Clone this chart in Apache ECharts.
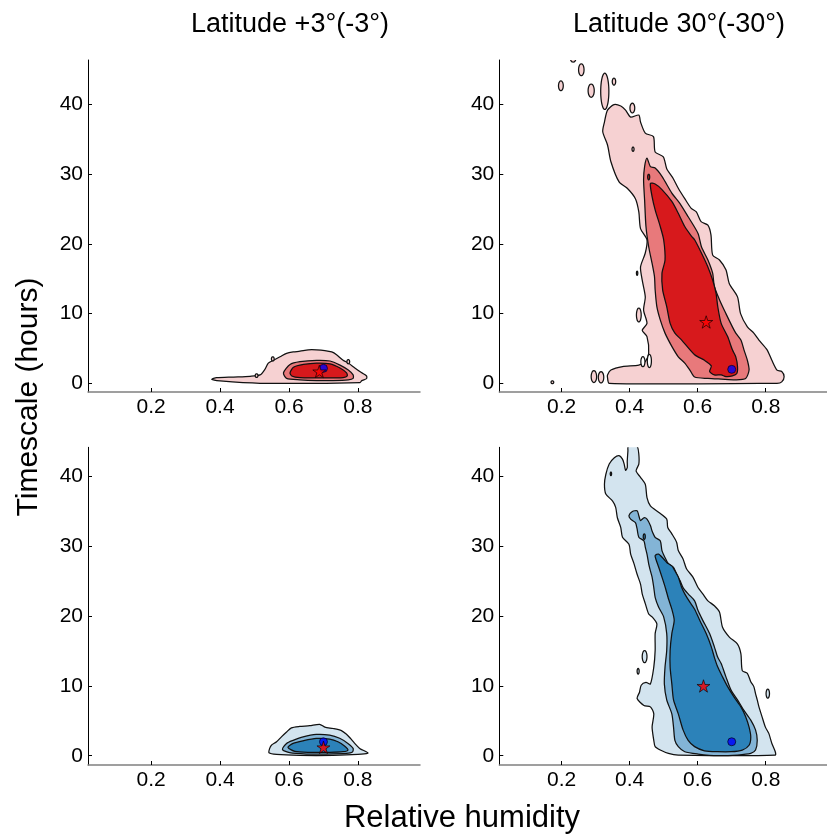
<!DOCTYPE html>
<html><head><meta charset="utf-8">
<script src="https://cdn.jsdelivr.net/npm/echarts@6/dist/echarts.min.js"></script>
<style>html,body{margin:0;padding:0;background:#fff}#c{width:827px;height:834px}</style>
</head><body><div id="c"></div>
<script>
// ---------- data ----------
const panelTitles = ['Latitude +3°(-3°)', 'Latitude 30°(-30°)'];
const xTickValues = [0.2, 0.4, 0.6, 0.8];
const yTickValues = [0, 10, 20, 30, 40];
const xLabel = 'Relative humidity';
const yLabel = 'Timescale (hours)';

// Top-left (red, +3°)
const tlLight = [[0.376,0.57],[0.390,0.8],[0.439,0.9],[0.487,1.0],[0.516,1.2],[0.530,2.0],[0.540,2.9],[0.555,3.3],[0.574,3.8],[0.593,4.3],[0.613,4.5],[0.632,4.6],[0.656,4.8],[0.680,4.8],[0.704,4.7],[0.724,4.5],[0.738,4.1],[0.757,3.3],[0.772,2.9],[0.791,2.2],[0.811,1.5],[0.825,1.05],[0.825,0.67],[0.811,0.38],[0.806,0.1],[0.516,0],[0.40,0.33]];
const tlMid = [[0.584,1.5],[0.603,2.7],[0.632,3.1],[0.680,3.3],[0.719,3.2],[0.748,2.6],[0.772,1.9],[0.786,1.2],[0.786,0.7],[0.772,0.5],[0.728,0.4],[0.680,0.4],[0.632,0.5],[0.593,0.7]];
const tlDark = [[0.603,1.5],[0.613,2.3],[0.642,2.7],[0.680,2.9],[0.719,2.8],[0.748,2.2],[0.767,1.5],[0.769,1.05],[0.757,0.8],[0.728,0.77],[0.680,0.77],[0.632,0.8],[0.608,1.05]];
const tlIslands = [[0.506,1.1,0.004,0.25],[0.553,3.5,0.004,0.3],[0.772,3.1,0.004,0.3]];

// Top-right (red, 30°)
const trLight = [[0.335,39.2],[0.354,40.0],[0.374,39.8],[0.388,39.2],[0.403,38.2],[0.427,38.5],[0.432,37.5],[0.446,35.9],[0.470,35.4],[0.475,33.2],[0.499,32.5],[0.509,30.8],[0.528,29.4],[0.543,28.0],[0.562,26.5],[0.581,25.1],[0.596,24.6],[0.610,23.2],[0.630,22.7],[0.639,21.3],[0.644,18.4],[0.664,17.7],[0.683,16.3],[0.693,14.3],[0.717,12.4],[0.726,10.0],[0.746,8.1],[0.765,7.2],[0.780,6.2],[0.804,4.8],[0.818,3.3],[0.833,1.9],[0.847,1.7],[0.854,0.95],[0.847,0.2],[0.833,0],[0.340,0],[0.335,0.8],[0.335,1.2],[0.345,1.9],[0.379,2.4],[0.427,2.6],[0.446,3.1],[0.456,4.3],[0.451,6.7],[0.437,7.6],[0.451,8.6],[0.441,10.5],[0.446,12.4],[0.437,14.8],[0.432,16.7],[0.446,18.7],[0.451,20.6],[0.432,22.2],[0.427,24.6],[0.417,26.5],[0.393,28.0],[0.369,28.9],[0.345,31.8],[0.335,34.2],[0.321,36.1],[0.326,37.5]];
const trMid = [[0.451,32.3],[0.461,31.1],[0.475,30.9],[0.495,29.7],[0.524,27.3],[0.548,25.8],[0.572,23.9],[0.601,21.5],[0.611,19.6],[0.630,17.7],[0.644,15.8],[0.649,13.9],[0.664,12.0],[0.683,10.0],[0.702,8.1],[0.712,7.2],[0.727,6.2],[0.736,4.8],[0.746,3.3],[0.751,1.9],[0.741,0.7],[0.712,0.5],[0.669,0.6],[0.630,0.7],[0.591,0.9],[0.577,1.9],[0.562,2.9],[0.543,3.8],[0.524,5.3],[0.504,7.2],[0.490,9.1],[0.480,11.0],[0.475,13.4],[0.473,15.3],[0.466,17.2],[0.456,19.6],[0.448,22.5],[0.444,26.3],[0.441,29.2],[0.444,31.1]];
const trDark = [[0.461,28.7],[0.475,28.6],[0.495,27.8],[0.524,26.1],[0.543,24.4],[0.562,22.5],[0.582,21.1],[0.591,20.6],[0.611,18.7],[0.630,16.7],[0.644,14.8],[0.654,12.9],[0.659,11.0],[0.669,8.6],[0.688,6.7],[0.702,4.8],[0.712,3.8],[0.717,2.4],[0.715,1.4],[0.702,1.05],[0.683,0.96],[0.669,1.2],[0.649,1.2],[0.635,1.7],[0.640,2.5],[0.620,3.3],[0.591,4.1],[0.553,6.2],[0.533,7.2],[0.519,8.6],[0.509,11.0],[0.497,13.4],[0.495,15.8],[0.504,17.7],[0.500,20.6],[0.490,22.5],[0.475,24.9],[0.466,26.8]];
const trIslands = [[0.234,46.6,0.008,0.5],[0.258,45.0,0.008,0.86],[0.198,42.7,0.007,0.7],[0.287,42.0,0.009,0.95],[0.327,41.9,0.012,2.6],[0.354,43.3,0.005,0.5],[0.408,39.5,0.007,0.7],[0.410,33.6,0.003,0.3],[0.422,15.8,0.002,0.3],[0.427,9.8,0.007,1.0],[0.295,0.96,0.008,0.85],[0.316,0.86,0.008,0.8],[0.173,0.15,0.004,0.2]];
const trHoles = [[0.439,3.1,0.006,0.72],[0.458,3.2,0.006,0.95]];
const trDarkDots = [[0.456,29.6,0.003,0.4]];

// Bottom-left (blue, +3°)
const blLight = [[0.542,0.43],[0.544,1.05],[0.549,1.5],[0.564,2.0],[0.578,2.7],[0.593,3.4],[0.607,4.0],[0.631,4.2],[0.660,4.3],[0.689,4.5],[0.704,4.1],[0.728,3.9],[0.752,3.6],[0.766,3.1],[0.778,2.5],[0.790,1.8],[0.805,1.05],[0.824,0.57],[0.829,0.38],[0.800,0.19],[0.728,0.05],[0.631,0.05],[0.564,0.19]];
const blMid = [[0.581,0.9],[0.593,1.76],[0.612,2.2],[0.641,2.7],[0.679,3.05],[0.718,2.95],[0.747,2.5],[0.771,1.76],[0.786,1.05],[0.784,0.52],[0.766,0.33],[0.708,0.24],[0.650,0.24],[0.602,0.43]];
const blDark = [[0.597,1.2],[0.612,1.76],[0.641,2.14],[0.679,2.48],[0.718,2.38],[0.742,2.0],[0.761,1.38],[0.771,0.81],[0.757,0.57],[0.718,0.48],[0.660,0.48],[0.617,0.62]];

// Bottom-right (blue, 30°)
const brLight = [[0.326,38.9],[0.330,40.3],[0.340,41.8],[0.355,42.7],[0.369,43.0],[0.379,42.5],[0.384,41.8],[0.388,40.9],[0.393,41.3],[0.393,42.2],[0.395,43.7],[0.396,44.3],[0.422,44.3],[0.427,43.2],[0.427,41.8],[0.419,40.8],[0.432,39.9],[0.446,38.9],[0.451,37.0],[0.461,35.8],[0.485,34.9],[0.509,33.9],[0.512,32.7],[0.524,31.8],[0.538,30.6],[0.543,29.4],[0.557,28.2],[0.567,26.8],[0.586,25.6],[0.601,24.1],[0.615,23.2],[0.630,22.2],[0.649,21.5],[0.664,20.6],[0.673,18.4],[0.693,17.0],[0.717,16.0],[0.727,14.6],[0.731,12.2],[0.746,11.8],[0.756,10.6],[0.765,9.9],[0.770,8.9],[0.775,8.0],[0.780,7.0],[0.789,5.6],[0.799,4.1],[0.809,3.2],[0.818,1.76],[0.828,0.57],[0.828,0.1],[0.543,0.1],[0.514,0.33],[0.490,0.81],[0.475,1.3],[0.471,2.2],[0.466,4.1],[0.471,6.0],[0.461,7.0],[0.442,7.2],[0.422,8.2],[0.429,9.1],[0.434,10.1],[0.448,10.5],[0.461,10.3],[0.471,12.7],[0.475,15.1],[0.475,17.5],[0.480,18.9],[0.466,19.9],[0.456,20.3],[0.446,21.8],[0.437,23.2],[0.432,24.6],[0.422,26.0],[0.413,27.5],[0.403,28.9],[0.398,30.3],[0.379,31.3],[0.374,32.7],[0.364,34.1],[0.359,35.6],[0.350,36.5],[0.330,37.5]];
const brMid = [[0.398,34.4],[0.408,35.0],[0.422,35.1],[0.427,34.4],[0.432,33.7],[0.442,34.1],[0.451,33.9],[0.461,33.0],[0.466,32.2],[0.475,31.3],[0.490,30.8],[0.495,29.4],[0.504,28.4],[0.514,27.5],[0.529,27.0],[0.538,26.0],[0.548,25.1],[0.557,24.1],[0.572,23.2],[0.591,22.2],[0.601,20.8],[0.615,19.4],[0.635,17.5],[0.649,15.6],[0.659,14.1],[0.669,13.2],[0.683,11.3],[0.698,9.4],[0.717,8.0],[0.736,6.5],[0.756,5.1],[0.770,3.7],[0.775,2.2],[0.770,0.81],[0.756,0.33],[0.717,0.1],[0.659,0],[0.601,0.24],[0.562,0.57],[0.543,1.3],[0.533,2.2],[0.529,4.1],[0.524,6.0],[0.509,8.0],[0.502,10.3],[0.504,12.7],[0.509,15.1],[0.509,17.5],[0.500,19.9],[0.485,21.3],[0.475,22.7],[0.471,24.1],[0.466,25.6],[0.461,26.5],[0.456,27.5],[0.451,28.9],[0.446,29.9],[0.442,30.8],[0.427,31.3],[0.422,32.5],[0.417,33.4],[0.403,33.9]];
const brDark = [[0.475,28.7],[0.485,28.9],[0.500,28.2],[0.509,27.7],[0.524,27.2],[0.533,26.5],[0.543,25.6],[0.553,24.1],[0.562,23.2],[0.577,22.0],[0.591,21.0],[0.606,19.4],[0.625,17.5],[0.640,15.6],[0.649,14.1],[0.659,12.7],[0.673,11.3],[0.688,9.9],[0.707,8.4],[0.727,7.0],[0.741,5.6],[0.751,4.1],[0.756,2.7],[0.751,1.5],[0.731,0.81],[0.698,0.57],[0.659,0.57],[0.620,0.71],[0.591,1.3],[0.572,2.2],[0.557,3.7],[0.543,6.0],[0.529,8.0],[0.524,10.3],[0.519,12.7],[0.519,15.1],[0.524,17.5],[0.531,19.4],[0.524,21.0],[0.514,22.5],[0.506,23.9],[0.497,25.3],[0.487,26.8],[0.477,28.2]];
const brIslands = [[0.444,14.2,0.007,0.86],[0.425,12.1,0.003,0.4],[0.806,8.9,0.005,0.65]];
const brMidDots = [[0.443,31.4,0.003,0.4]];
const brDarkDots = [[0.345,40.4,0.002,0.25]];

// Markers per panel [TL, TR, BL, BR]
const circlePoints = [[0.700,2.15],[0.700,2.0],[0.700,2.0],[0.700,2.0]];
const starPoints = [[0.688,1.7],[0.625,8.8],[0.700,1.2],[0.617,10.0]];

// ---------- styles ----------
const RED = ['#f6d1d2', '#e8797b', '#d7191c'];
const BLUE = ['#d3e4ef', '#83b4d6', '#2c82b9'];
const FONT = "'Liberation Sans', Arial, Helvetica, sans-serif";
const STAR = 'path://M0,-1L0.2245,-0.309L0.951,-0.309L0.363,0.118L0.588,0.809L0,0.382L-0.588,0.809L-0.363,0.118L-0.951,-0.309L-0.2245,-0.309Z';

function poly(pts, fill) { return { pts: pts, fill: fill }; }
function ells(list, fill) { return list.map(e => ({ ell: e, fill: fill })); }

const panels = [
  { shapes: [poly(tlLight, RED[0])].concat(ells(tlIslands, RED[0]), [poly(tlMid, RED[1]), poly(tlDark, RED[2])]) },
  { shapes: [poly(trLight, RED[0])].concat(ells(trIslands, RED[0]), ells(trHoles, '#ffffff'), [poly(trMid, RED[1]), poly(trDark, RED[2])], ells(trDarkDots, RED[2])) },
  { shapes: [poly(blLight, BLUE[0]), poly(blMid, BLUE[1]), poly(blDark, BLUE[2])] },
  { shapes: [poly(brLight, BLUE[0])].concat(ells(brIslands, BLUE[0]), [poly(brMid, BLUE[1])], ells(brMidDots, BLUE[2]), [poly(brDark, BLUE[2])], ells(brDarkDots, BLUE[2])) }
];

const grids = [
  { left: 88, top: 60, width: 332, height: 332 },
  { left: 499.3, top: 60, width: 331.5, height: 332 },
  { left: 88, top: 447.3, width: 332, height: 317.7 },
  { left: 499.3, top: 447.3, width: 331.5, height: 317.7 }
];
const yRanges = [[-1.25, 46.4], [-1.25, 46.4], [-1.33, 44.2], [-1.33, 44.2]];

const xAxes = grids.map((g, i) => ({
  gridIndex: i, type: 'value', min: 0.017, max: 0.98,
  axisLine: { show: true, onZero: false, lineStyle: { color: '#808080', width: 1.5 } },
  axisTick: { show: true, inside: true, length: 4, customValues: xTickValues, lineStyle: { color: '#000' } },
  axisLabel: { show: true, customValues: xTickValues, color: '#000', fontSize: 21, fontFamily: FONT, margin: 5, formatter: v => v.toFixed(1) },
  splitLine: { show: false }
}));
const yAxes = grids.map((g, i) => ({
  gridIndex: i, type: 'value', min: yRanges[i][0], max: yRanges[i][1],
  axisLine: { show: true, onZero: false, lineStyle: { color: '#000', width: 1 } },
  axisTick: { show: true, inside: true, length: 4, customValues: yTickValues, lineStyle: { color: '#000' } },
  axisLabel: { show: true, customValues: yTickValues, color: '#000', fontSize: 21, fontFamily: FONT, margin: 5 },
  splitLine: { show: false }
}));

function renderShape(shapes) {
  return function (params, api) {
    const s = shapes[params.dataIndex];
    let points;
    if (s.pts) {
      points = s.pts.map(p => api.coord(p));
    } else {
      const c = api.coord([s.ell[0], s.ell[1]]);
      const sz = api.size([s.ell[2], s.ell[3]]);
      points = [];
      for (let k = 0; k < 24; k++) {
        const a = k / 24 * Math.PI * 2;
        points.push([c[0] + sz[0] * Math.cos(a), c[1] + sz[1] * Math.sin(a)]);
      }
    }
    return { type: 'polygon', shape: { points: points, smooth: 0.25 }, style: { fill: s.fill, stroke: '#111', lineWidth: 1.25 } };
  };
}

const series = [];
panels.forEach((p, i) => {
  series.push({
    type: 'custom', xAxisIndex: i, yAxisIndex: i, clip: true, silent: true,
    renderItem: renderShape(p.shapes),
    data: p.shapes.map((s, k) => [k]),
    encode: { x: [], y: [] }
  });
  series.push({
    type: 'scatter', xAxisIndex: i, yAxisIndex: i, silent: true, z: 5,
    symbol: 'circle', symbolSize: 8,
    itemStyle: { color: '#0000ff', borderColor: '#000', borderWidth: 0.8 },
    data: [circlePoints[i]]
  });
  series.push({
    type: 'scatter', xAxisIndex: i, yAxisIndex: i, silent: true, z: 6,
    symbol: STAR, symbolSize: [13, 12.4],
    itemStyle: { color: '#ff0000', borderColor: '#000', borderWidth: 0.8 },
    data: [starPoints[i]]
  });
});

const chart = echarts.init(document.getElementById('c'), null, { renderer: 'canvas' });
chart.setOption({
  animation: false,
  backgroundColor: '#fff',
  grid: grids,
  xAxis: xAxes,
  yAxis: yAxes,
  title: [
    { text: panelTitles[0], left: 285, top: 6, textAlign: 'center', textStyle: { fontSize: 27, fontWeight: 'normal', color: '#000', fontFamily: FONT } },
    { text: panelTitles[1], left: 674, top: 6, textAlign: 'center', textStyle: { fontSize: 27, fontWeight: 'normal', color: '#000', fontFamily: FONT } }
  ],
  graphic: [
    { type: 'text', x: 462, y: 818, style: { text: xLabel, fontSize: 31, fontFamily: FONT, fill: '#000', align: 'center', verticalAlign: 'middle' } },
    { type: 'text', x: 29, y: 397, rotation: Math.PI / 2, style: { text: yLabel, fontSize: 30, fontFamily: FONT, fill: '#000', align: 'center', verticalAlign: 'middle' } }
  ],
  series: series
});
</script>
</body></html>
